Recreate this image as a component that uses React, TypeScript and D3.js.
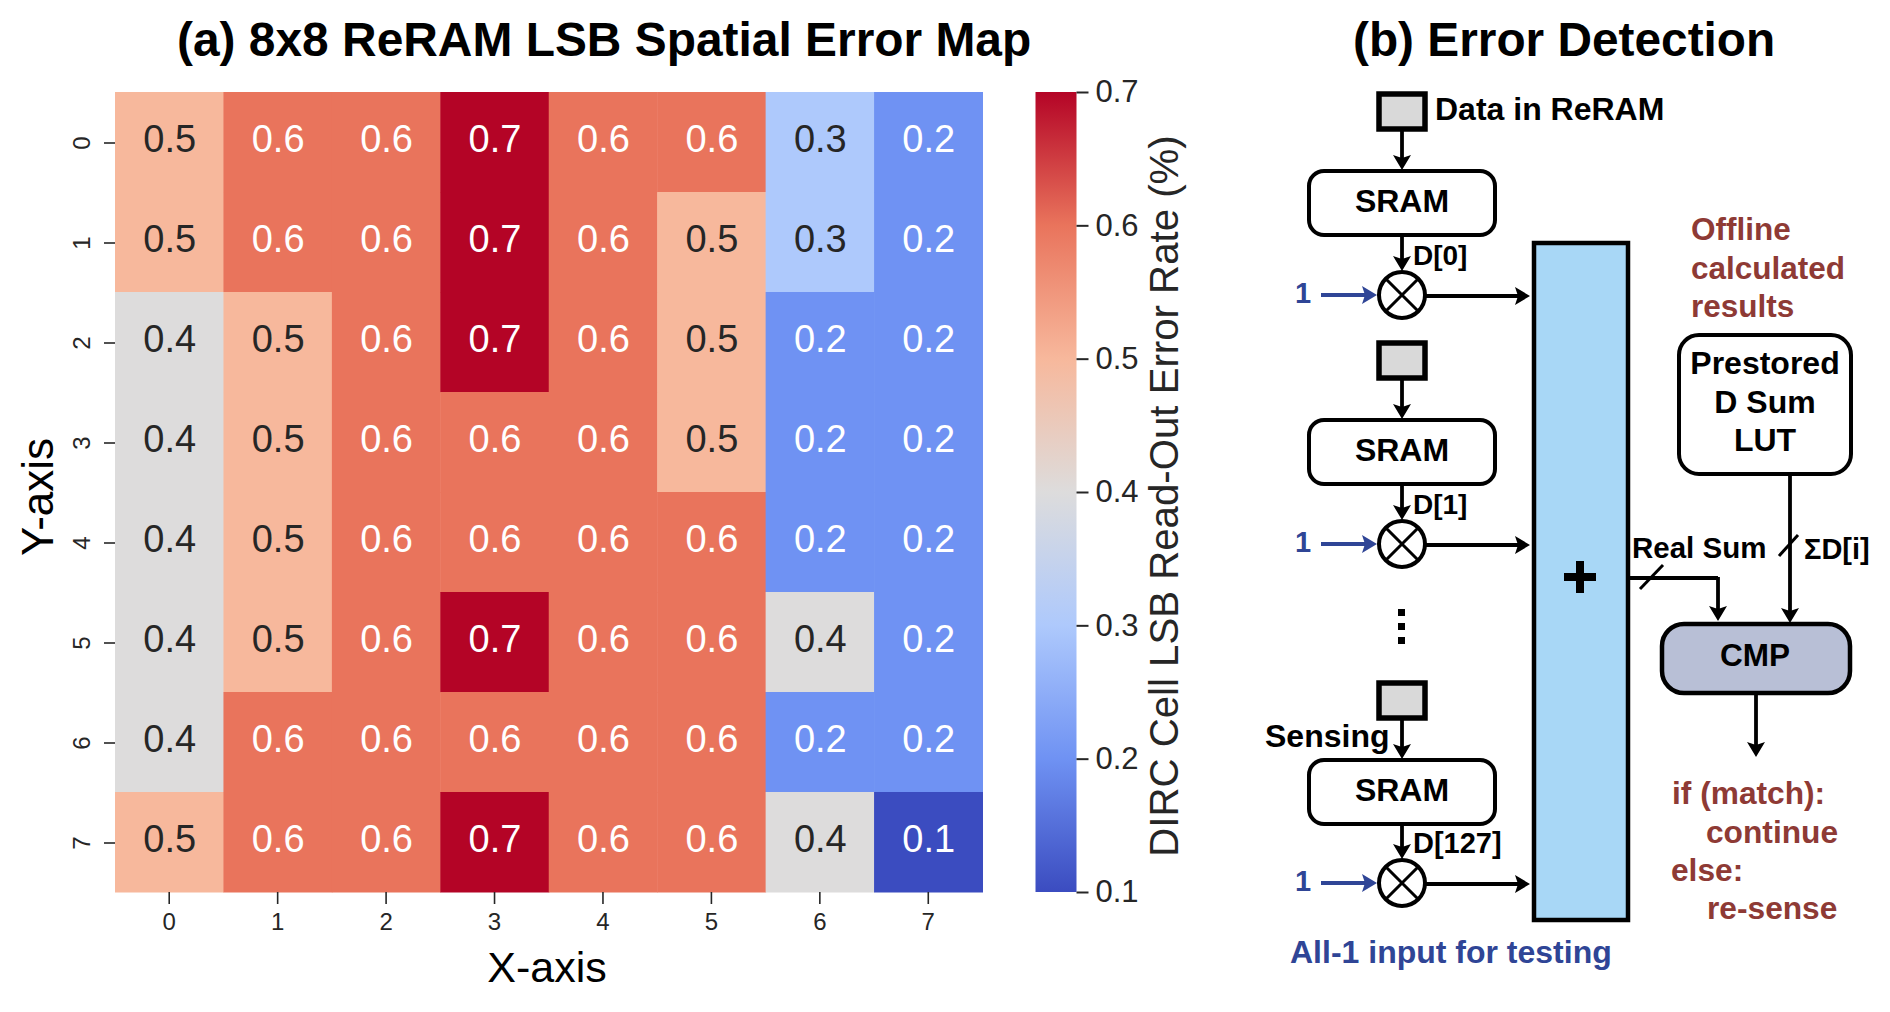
import { useEffect, useRef } from 'react'
import * as d3 from 'd3'

const xCategories = ['0', '1', '2', '3', '4', '5', '6', '7']
const yCategories = ['0', '1', '2', '3', '4', '5', '6', '7']

const errorRates = [
  [0.5, 0.6, 0.6, 0.7, 0.6, 0.6, 0.3, 0.2],
  [0.5, 0.6, 0.6, 0.7, 0.6, 0.5, 0.3, 0.2],
  [0.4, 0.5, 0.6, 0.7, 0.6, 0.5, 0.2, 0.2],
  [0.4, 0.5, 0.6, 0.6, 0.6, 0.5, 0.2, 0.2],
  [0.4, 0.5, 0.6, 0.6, 0.6, 0.6, 0.2, 0.2],
  [0.4, 0.5, 0.6, 0.7, 0.6, 0.6, 0.4, 0.2],
  [0.4, 0.6, 0.6, 0.6, 0.6, 0.6, 0.2, 0.2],
  [0.5, 0.6, 0.6, 0.7, 0.6, 0.6, 0.4, 0.1],
]

const colorTicks = [0.1, 0.2, 0.3, 0.4, 0.5, 0.6, 0.7]
const colorStops = ['#3b4cc0', '#6f92f3', '#aec9fc', '#dddcdc', '#f7b89c', '#e9745c', '#b40426']

const FONT = '"Liberation Sans", Arial, sans-serif'
const INK = '#262626'
const BLUE = '#2f4596'
const BROWN = '#8e3a35'

type Sel = d3.Selection<SVGGElement, unknown, null, undefined>

function label(g: Sel, x: number, y: number, text: string, size: number, fill = '#000', anchor = 'start', weight = 'bold') {
  return g.append('text')
    .attr('x', x)
    .attr('y', y)
    .attr('font-size', size)
    .attr('font-weight', weight)
    .attr('fill', fill)
    .attr('text-anchor', anchor)
    .text(text)
}

// Line with a notched head whose tip sits exactly on (x2, y2)
function arrow(g: Sel, x1: number, y1: number, x2: number, y2: number, color = '#000', width = 3.8) {
  const angle = Math.atan2(y2 - y1, x2 - x1) * 180 / Math.PI
  const len = Math.hypot(x2 - x1, y2 - y1)
  g.append('line')
    .attr('x1', x1).attr('y1', y1)
    .attr('x2', x2 - (x2 - x1) / len * 8).attr('y2', y2 - (y2 - y1) / len * 8)
    .attr('stroke', color).attr('stroke-width', width)
  g.append('path')
    .attr('d', 'M0,0L-15,-9L-12,0L-15,9Z')
    .attr('transform', `translate(${x2},${y2}) rotate(${angle})`)
    .attr('fill', color)
}

function multiplier(g: Sel, cx: number, cy: number) {
  const r = 23
  const d = r * Math.SQRT1_2
  g.append('circle').attr('cx', cx).attr('cy', cy).attr('r', r)
    .attr('fill', '#fff').attr('stroke', '#000').attr('stroke-width', 4)
  g.append('path')
    .attr('d', `M${cx - d},${cy - d}L${cx + d},${cy + d}M${cx + d},${cy - d}L${cx - d},${cy + d}`)
    .attr('stroke', '#000').attr('stroke-width', 3)
}

function roundBox(g: Sel, x: number, y: number, w: number, h: number, rx: number, fill = '#fff', sw = 4) {
  g.append('rect')
    .attr('x', x).attr('y', y).attr('width', w).attr('height', h).attr('rx', rx)
    .attr('fill', fill).attr('stroke', '#000').attr('stroke-width', sw)
}

// One sensed bit: ReRAM cell, SRAM buffer, AND gate with the test input and the wire into the adder
function bitLane(g: Sel, cellTop: number, sramTop: number, cy: number, bit: string, bitSize: number) {
  const cx = 1402
  g.append('rect')
    .attr('x', cx - 23).attr('y', cellTop + 2).attr('width', 46).attr('height', 35)
    .attr('fill', '#d9d9d9').attr('stroke', '#000').attr('stroke-width', 5.5)
  arrow(g, cx, cellTop + 39, cx, sramTop)
  roundBox(g, 1309, sramTop + 1, 186, 64, 15)
  label(g, cx, sramTop + 42, 'SRAM', 32, '#000', 'middle')
  arrow(g, cx, sramTop + 66, cx, cy - 24)
  label(g, 1413, cy - 30, bit, bitSize)
  multiplier(g, cx, cy)
  label(g, 1303, cy + 8, '1', 29, BLUE, 'middle')
  arrow(g, 1321, cy, 1377, cy, BLUE, 4.2)
  arrow(g, 1425, cy + 1, 1530, cy + 1)
}

export default function App() {
  const svgRef = useRef<SVGSVGElement>(null)

  useEffect(() => {
    const svg = d3.select(svgRef.current)
    svg.selectAll('*').remove()
    svg.attr('font-family', FONT)

    const root = svg.append('g') as unknown as Sel

    // (a) heatmap
    const x = d3.scaleBand().domain(xCategories).range([115, 982.5])
    const y = d3.scaleBand().domain(yCategories).range([92, 892])
    const color = d3.scaleLinear<string>().domain(colorTicks).range(colorStops)

    label(root, 177, 56, '(a) 8x8 ReRAM LSB Spatial Error Map', 47.9)

    const cells = errorRates.flatMap((row, r) => row.map((v, c) => ({ v, xKey: xCategories[c], yKey: yCategories[r] })))

    root.append('g').selectAll('rect')
      .data(cells)
      .enter()
      .append('rect')
      .attr('x', d => x(d.xKey) || 0)
      .attr('y', d => y(d.yKey) || 0)
      .attr('width', x.bandwidth() + 0.5)
      .attr('height', y.bandwidth() + 0.5)
      .attr('fill', d => color(d.v))

    root.append('g').selectAll('text')
      .data(cells)
      .enter()
      .append('text')
      .attr('x', d => (x(d.xKey) || 0) + x.bandwidth() / 2 + 0.5)
      .attr('y', d => (y(d.yKey) || 0) + y.bandwidth() / 2 + 9.5)
      .attr('text-anchor', 'middle')
      .attr('font-size', 38)
      .attr('fill', d => (d.v >= 0.55 || d.v <= 0.25 ? '#fff' : INK))
      .text(d => d.v.toFixed(1))

    const xAxis = root.append('g')
      .attr('transform', 'translate(0,892)')
      .call(d3.axisBottom(x).tickSize(12).tickPadding(9))
    xAxis.select('.domain').remove()
    xAxis.selectAll('line').attr('stroke', INK).attr('stroke-width', 1.6)
    xAxis.selectAll('text').attr('font-size', 24).attr('font-family', FONT).attr('fill', INK)

    const yAxis = root.append('g')
      .attr('transform', 'translate(115,1)')
      .call(d3.axisLeft(y).tickSize(11).tickPadding(9))
    yAxis.select('.domain').remove()
    yAxis.selectAll('line').attr('stroke', INK).attr('stroke-width', 1.6)
    yAxis.selectAll('text')
      .attr('font-size', 24)
      .attr('font-family', FONT)
      .attr('fill', INK)
      .attr('text-anchor', 'middle')
      .attr('dy', 0)
      .attr('x', 0)
      .attr('transform', 'translate(-25,0) rotate(-90)')

    label(root, 547, 982, 'X-axis', 43, '#000', 'middle', 'normal')
    label(root, 0, 0, 'Y-axis', 44, '#000', 'middle', 'normal')
      .attr('transform', 'translate(53,497) rotate(-90)')

    // colour bar
    const barScale = d3.scaleLinear().domain([0.1, 0.7]).range([892, 92])
    const gradient = svg.append('defs').append('linearGradient')
      .attr('id', 'coolwarm')
      .attr('x1', 0).attr('y1', 1).attr('x2', 0).attr('y2', 0)
    colorTicks.forEach((t, i) => {
      gradient.append('stop').attr('offset', (t - 0.1) / 0.6).attr('stop-color', colorStops[i])
    })
    root.append('rect')
      .attr('x', 1035.5).attr('y', 92).attr('width', 41).attr('height', 800)
      .attr('fill', 'url(#coolwarm)')
    const barAxis = root.append('g')
      .attr('transform', 'translate(1076.5,0)')
      .call(d3.axisRight(barScale).tickValues(colorTicks).tickFormat(d3.format('.1f')).tickSize(12).tickPadding(7))
    barAxis.select('.domain').remove()
    barAxis.selectAll('line').attr('stroke', INK).attr('stroke-width', 2)
    barAxis.selectAll('text').attr('font-size', 31).attr('font-family', FONT).attr('fill', INK)

    label(root, 0, 0, 'DIRC Cell LSB Read-Out Error Rate (%)', 40.2, INK, 'middle', 'normal')
      .attr('transform', 'translate(1178,496) rotate(-90)')

    // (b) error detection diagram
    label(root, 1353, 56, '(b) Error Detection', 47.8)

    root.append('rect')
      .attr('x', 1534).attr('y', 243).attr('width', 94).attr('height', 677)
      .attr('fill', '#a8d7f6').attr('stroke', '#000').attr('stroke-width', 4.5)
    root.append('path')
      .attr('d', 'M1564,577H1596M1580,561V593')
      .attr('stroke', '#000').attr('stroke-width', 8)

    bitLane(root, 92, 170, 295, 'D[0]', 28)
    bitLane(root, 341, 419, 544, 'D[1]', 28)
    bitLane(root, 681, 759, 883, 'D[127]', 29)

    label(root, 1435, 120, 'Data in ReRAM', 32)
    label(root, 1265, 747, 'Sensing', 32)
    label(root, 1290, 963, 'All-1 input for testing', 32, BLUE)

    root.append('g').selectAll('rect')
      .data(d3.range(3))
      .enter()
      .append('rect')
      .attr('x', 1398).attr('y', i => 609 + i * 14).attr('width', 7).attr('height', 7)
      .attr('fill', '#000')

    label(root, 1691, 240, 'Offline', 31.5, BROWN)
    label(root, 1691, 279, 'calculated', 31.5, BROWN)
    label(root, 1691, 317, 'results', 31.5, BROWN)

    roundBox(root, 1679, 335, 172, 139, 20)
    label(root, 1765, 374, 'Prestored', 32, '#000', 'middle')
    label(root, 1765, 413, 'D Sum', 32, '#000', 'middle')
    label(root, 1765, 451, 'LUT', 32, '#000', 'middle')

    arrow(root, 1790, 474, 1790, 623)
    root.append('line').attr('x1', 1779).attr('y1', 556).attr('x2', 1798).attr('y2', 535)
      .attr('stroke', '#000').attr('stroke-width', 3)
    label(root, 1804, 559, 'ΣD[i]', 29)

    label(root, 1632, 558, 'Real Sum', 29.5)
    root.append('path')
      .attr('d', 'M1629,578H1718')
      .attr('fill', 'none').attr('stroke', '#000').attr('stroke-width', 3.8)
    arrow(root, 1718, 577, 1718, 621)
    root.append('line').attr('x1', 1640).attr('y1', 589).attr('x2', 1663).attr('y2', 565)
      .attr('stroke', '#000').attr('stroke-width', 3)

    roundBox(root, 1662, 624, 188, 69, 22, '#b8bfd6', 4.5)
    label(root, 1755, 666, 'CMP', 31.5, '#000', 'middle')
    arrow(root, 1756, 693, 1756, 757)

    label(root, 1672, 804, 'if (match):', 31.7, BROWN)
    label(root, 1706, 843, 'continue', 31.7, BROWN)
    label(root, 1671, 881, 'else:', 31.7, BROWN)
    label(root, 1707, 919, 're-sense', 31.7, BROWN)
  }, [])

  return (
    <svg
      ref={svgRef}
      width={1890}
      height={1012}
      style={{ position: 'absolute', left: 0, top: 0, background: '#fff' }}
    />
  )
}
